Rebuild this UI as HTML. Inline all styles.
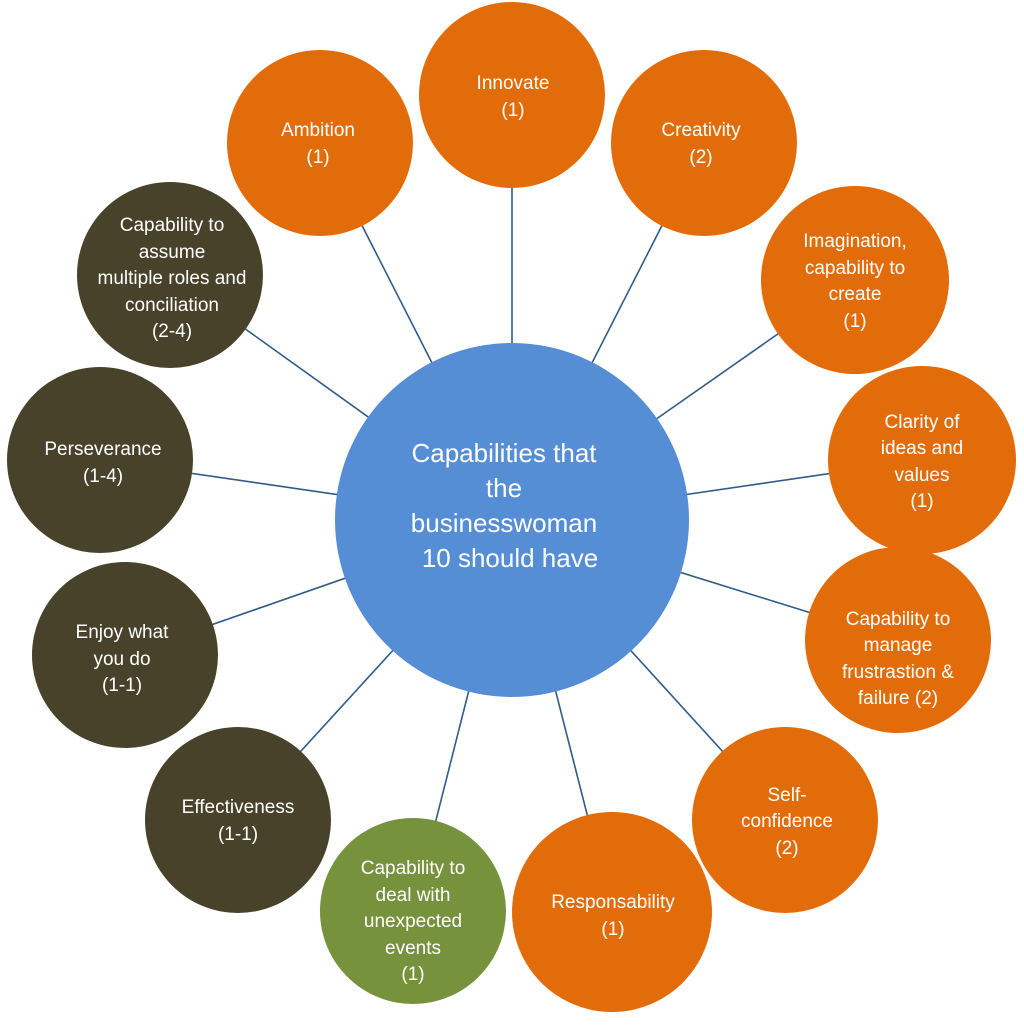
<!DOCTYPE html>
<html><head><meta charset="utf-8"><style>
html,body{margin:0;padding:0;background:#fff;}
svg{display:block}
text{font-family:"Liberation Sans",sans-serif;fill:#fff;text-anchor:middle;}
</style></head><body>
<svg width="1024" height="1025" viewBox="0 0 1024 1025">
<g stroke="#2f5b8a" stroke-width="1.6">
<line x1="512" y1="520" x2="512" y2="95"/>
<line x1="512" y1="520" x2="704" y2="143"/>
<line x1="512" y1="520" x2="320" y2="143"/>
<line x1="512" y1="520" x2="855" y2="280"/>
<line x1="512" y1="520" x2="170" y2="275"/>
<line x1="512" y1="520" x2="922" y2="460"/>
<line x1="512" y1="520" x2="100" y2="460"/>
<line x1="512" y1="520" x2="898" y2="640"/>
<line x1="512" y1="520" x2="125" y2="655"/>
<line x1="512" y1="520" x2="785" y2="820"/>
<line x1="512" y1="520" x2="238" y2="820"/>
<line x1="512" y1="520" x2="413" y2="911"/>
<line x1="512" y1="520" x2="612" y2="912"/>
</g>
<circle cx="512" cy="520" r="177" fill="#558ed5"/>
<g fill="#e36c0a">
<circle cx="512" cy="95" r="93"/>
<circle cx="704" cy="143" r="93"/>
<circle cx="320" cy="143" r="93"/>
<circle cx="855" cy="280" r="94"/>
<circle cx="922" cy="460" r="94"/>
<circle cx="898" cy="640" r="93"/>
<circle cx="785" cy="820" r="93"/>
<circle cx="612" cy="912" r="100"/>
</g>
<g fill="#48422a">
<circle cx="170" cy="275" r="93"/>
<circle cx="100" cy="460" r="93"/>
<circle cx="125" cy="655" r="93"/>
<circle cx="238" cy="820" r="93"/>
</g>
<circle cx="413" cy="911" r="93" fill="#76923c"/>
<g font-size="26">
<text x="504" y="462">Capabilities that</text>
<text x="504" y="497">the</text>
<text x="504" y="532">businesswoman</text>
<text x="510" y="567">10 should have</text>
</g>
<g font-size="19">
<text x="513" y="89">Innovate</text><text x="513" y="116">(1)</text>
<text x="701" y="136">Creativity</text><text x="701" y="163">(2)</text>
<text x="318" y="136">Ambition</text><text x="318" y="163">(1)</text>
<text x="855" y="247">Imagination,</text><text x="855" y="274">capability to</text><text x="855" y="300">create</text><text x="855" y="327">(1)</text>
<text x="172" y="231">Capability to</text><text x="172" y="258">assume</text><text x="172" y="284">multiple roles and</text><text x="172" y="311">conciliation</text><text x="172" y="337">(2-4)</text>
<text x="922" y="428">Clarity of</text><text x="922" y="454">ideas and</text><text x="922" y="481">values</text><text x="922" y="507">(1)</text>
<text x="103" y="455">Perseverance</text><text x="103" y="482">(1-4)</text>
<text x="898" y="625">Capability to</text><text x="898" y="651">manage</text><text x="898" y="678">frustrastion &amp;</text><text x="898" y="704">failure (2)</text>
<text x="122" y="638">Enjoy what</text><text x="122" y="665">you do</text><text x="122" y="691">(1-1)</text>
<text x="787" y="801">Self-</text><text x="787" y="827">confidence</text><text x="787" y="854">(2)</text>
<text x="238" y="813">Effectiveness</text><text x="238" y="840">(1-1)</text>
<text x="413" y="874">Capability to</text><text x="413" y="901">deal with</text><text x="413" y="927">unexpected</text><text x="413" y="954">events</text><text x="413" y="980">(1)</text>
<text x="613" y="908">Responsability</text><text x="613" y="935">(1)</text>
</g>
</svg>
</body></html>
